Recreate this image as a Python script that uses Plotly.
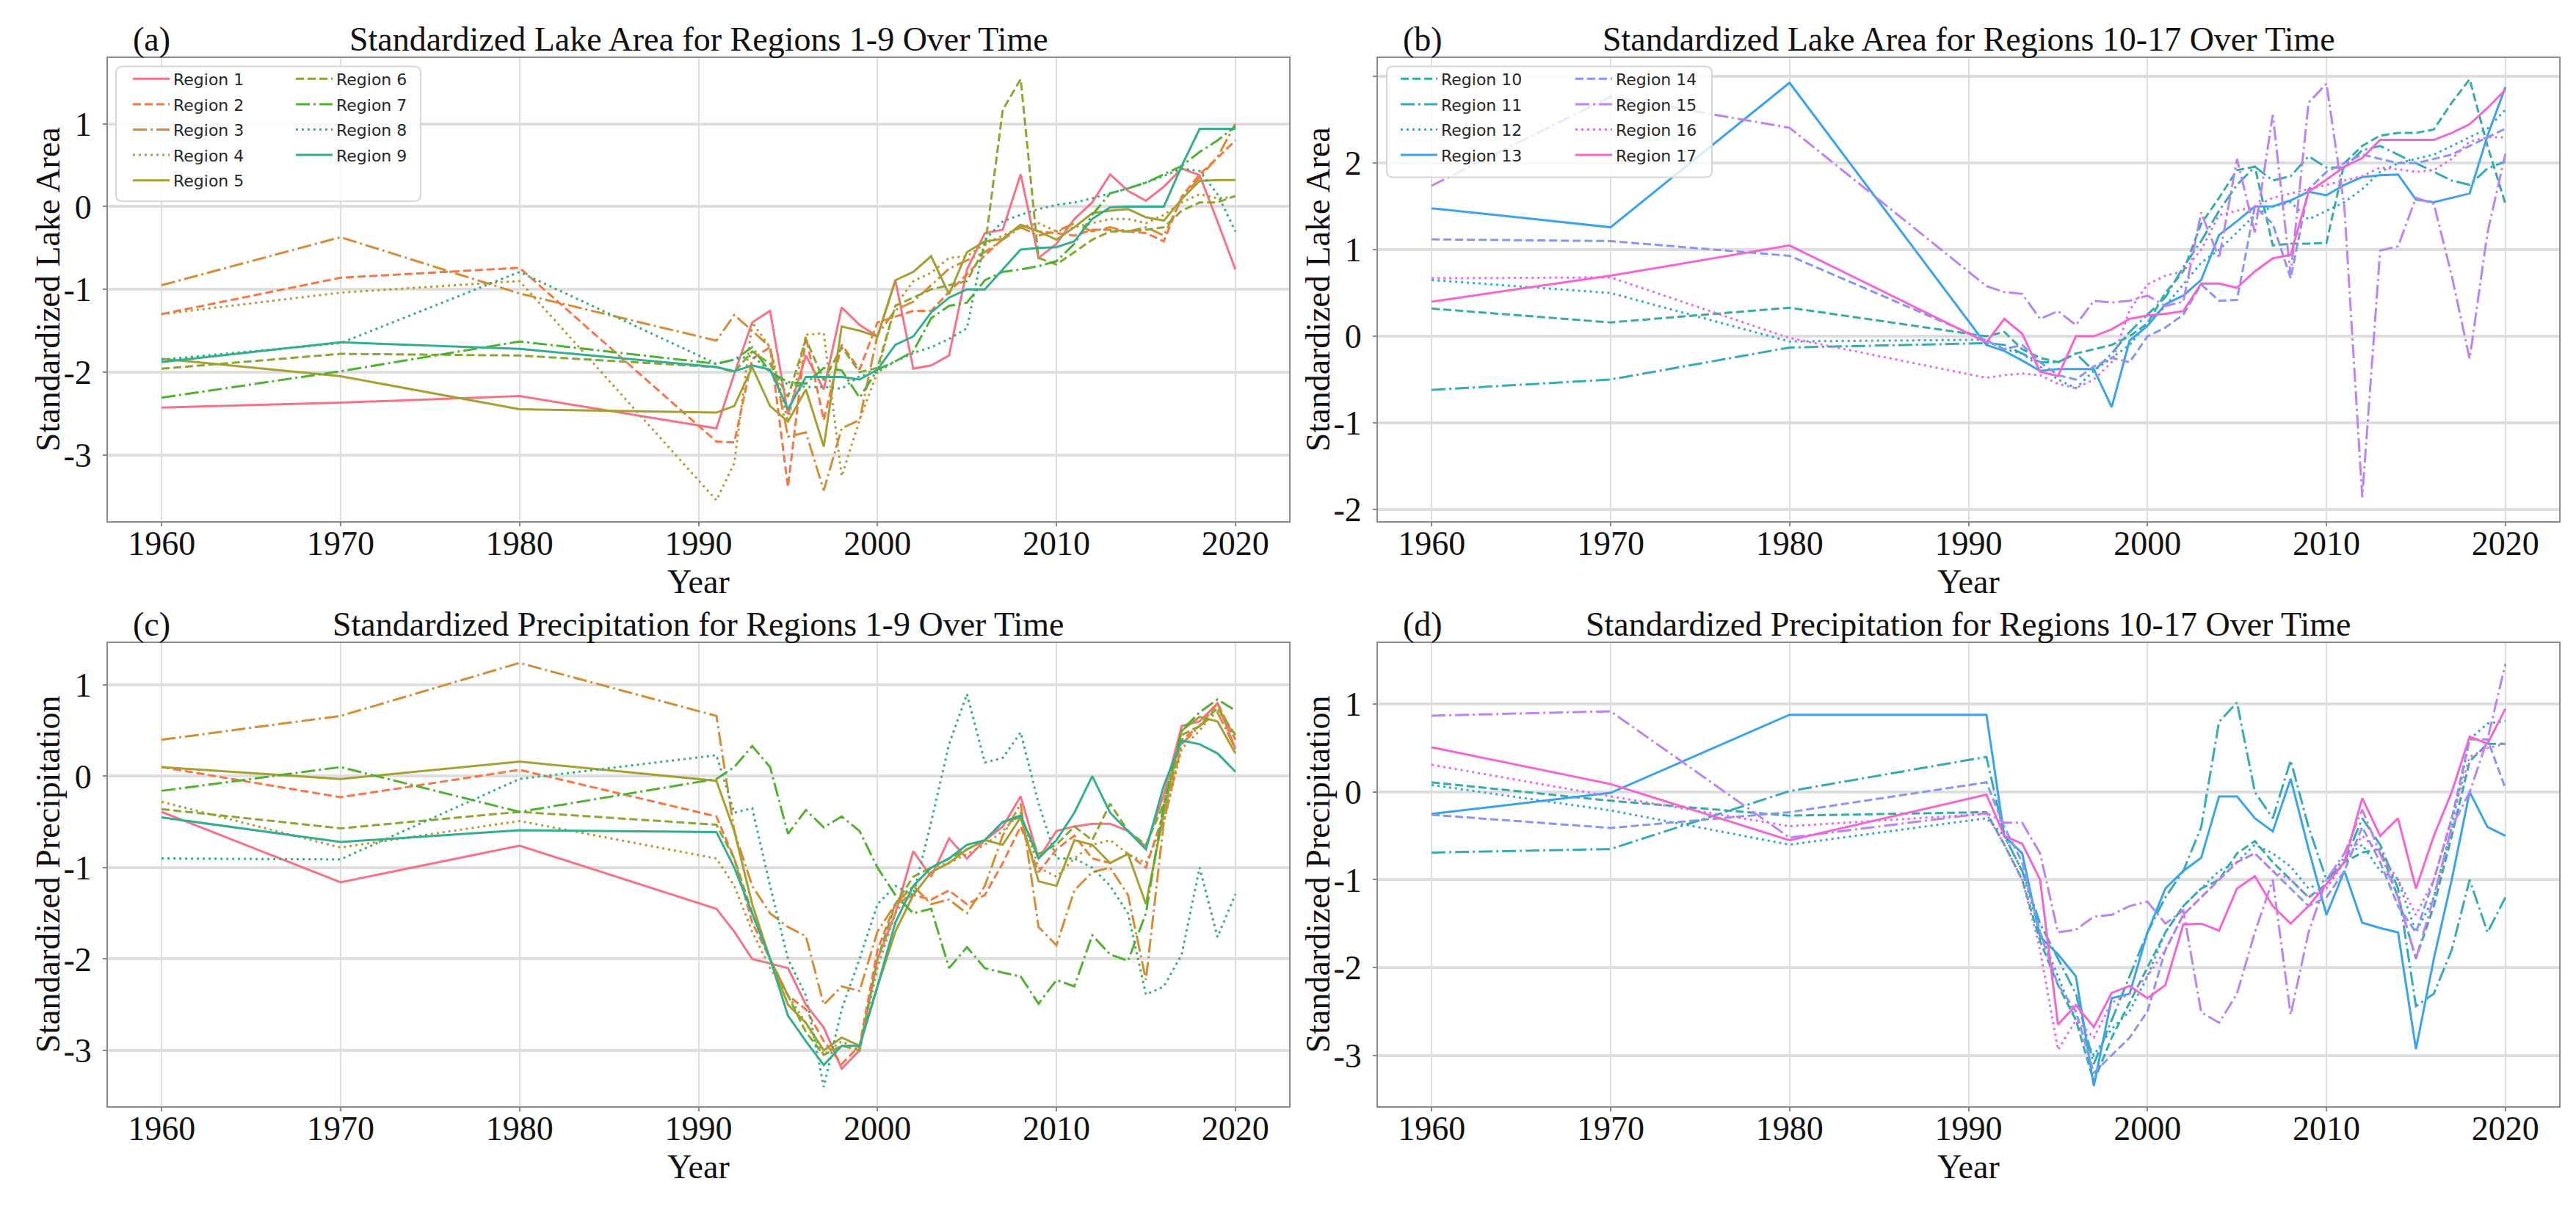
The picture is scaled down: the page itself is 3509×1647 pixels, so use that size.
import math
import plotly.graph_objects as go

# ---------------- data ----------------
years = [1960, 1970, 1980] + list(range(1991, 2021))

# Standardized lake area, regions 1-9
lake_r1 = [-2.43, -2.37, -2.29, -2.68, -2.02, -1.40, -1.26, -2.51, -1.80, -2.21, -1.22, -1.43, -1.57, -0.89, -1.96, -1.92, -1.80, -0.76, -0.32, -0.28, 0.39, -0.62, -0.45, -0.15, 0.05, 0.39, 0.19, 0.07, 0.24, 0.46, 0.38, -0.18, -0.76]
lake_r2 = [-1.30, -0.86, -0.74, -2.84, -2.85, -1.84, -1.70, -3.39, -1.57, -2.58, -1.67, -1.97, -1.40, -1.33, -1.26, -1.26, -1.03, -0.82, -0.59, -0.39, -0.22, -0.30, -0.32, -0.35, -0.28, -0.28, -0.30, -0.32, -0.42, 0.12, 0.39, 0.59, 0.80]
lake_r3 = [-0.95, -0.37, -1.05, -1.62, -1.31, -1.50, -1.70, -2.78, -2.73, -3.43, -2.68, -2.58, -1.55, -1.25, -1.15, -0.95, -0.75, -0.65, -0.55, -0.40, -0.25, -0.35, -0.30, -0.20, -0.30, -0.25, -0.30, -0.25, -0.35, 0.10, 0.35, 0.60, 1.00]
lake_r4 = [-1.30, -1.04, -0.90, -3.55, -3.10, -1.40, -1.70, -2.60, -1.55, -1.53, -3.26, -2.58, -2.00, -1.20, -0.90, -0.80, -0.62, -0.60, -0.45, -0.35, -0.25, -0.20, -0.30, -0.25, -0.20, -0.15, -0.15, -0.20, -0.10, 0.05, 0.15, 0.10, 0.12]
lake_r5 = [-1.84, -2.05, -2.45, -2.49, -2.41, -1.94, -2.41, -2.60, -2.21, -2.90, -1.45, -1.50, -1.57, -0.89, -0.79, -0.60, -1.06, -0.55, -0.42, -0.39, -0.22, -0.30, -0.40, -0.25, -0.08, -0.05, -0.03, -0.13, -0.17, 0.09, 0.31, 0.32, 0.32]
lake_r6 = [-1.96, -1.78, -1.80, -1.94, -2.00, -1.75, -1.90, -2.30, -1.60, -2.10, -1.70, -2.00, -1.95, -1.20, -1.10, -1.00, -0.95, -0.90, -0.50, 1.17, 1.54, -0.62, -0.70, -0.55, -0.40, -0.30, -0.30, -0.28, -0.25, -0.05, 0.05, 0.05, 0.13]
lake_r7 = [-2.31, -1.99, -1.63, -1.90, -1.85, -1.70, -2.00, -2.12, -2.14, -1.95, -1.98, -2.31, -1.97, -1.87, -1.75, -1.35, -1.20, -1.16, -0.89, -0.79, -0.76, -0.72, -0.66, -0.45, -0.10, 0.16, 0.22, 0.29, 0.39, 0.49, 0.66, 0.80, 0.97]
lake_r8 = [-1.85, -1.65, -0.79, -1.90, -1.85, -1.80, -2.00, -2.15, -2.18, -2.18, -2.20, -2.05, -2.00, -1.87, -1.77, -1.70, -1.60, -1.47, -0.40, -0.18, -0.10, -0.03, 0.02, 0.05, 0.10, 0.16, 0.22, 0.29, 0.37, 0.46, 0.43, 0.15, -0.30]
lake_r9 = [-1.88, -1.64, -1.72, -1.94, -1.99, -1.92, -1.97, -2.45, -2.06, -2.06, -2.06, -2.09, -1.97, -1.67, -1.57, -1.28, -1.10, -1.00, -1.00, -0.76, -0.52, -0.50, -0.49, -0.42, -0.15, -0.01, 0.00, 0.00, 0.00, 0.49, 0.94, 0.94, 0.94]

# Standardized lake area, regions 10-17
lake_r10 = [0.32, 0.16, 0.33, 0.00, 0.05, -0.15, -0.25, -0.30, -0.20, -0.15, -0.10, 0.00, 0.15, 0.50, 0.75, 1.30, 1.60, 1.92, 1.96, 1.05, 1.07, 1.07, 1.08, 2.00, 2.20, 2.32, 2.35, 2.35, 2.39, 2.70, 2.97, 2.20, 1.53]
lake_r11 = [-0.62, -0.50, -0.13, -0.08, -0.10, -0.20, -0.30, -0.30, -0.20, -0.40, -0.20, 0.05, 0.25, 0.45, 0.80, 1.10, 1.45, 1.75, 1.96, 1.80, 1.85, 2.08, 1.95, 1.95, 2.15, 2.20, 2.10, 2.00, 1.90, 1.80, 1.75, 1.94, 2.02]
lake_r12 = [0.65, 0.50, -0.06, -0.04, -0.15, -0.20, -0.35, -0.50, -0.60, -0.40, -0.25, -0.10, 0.15, 0.35, 0.60, 0.85, 1.00, 1.20, 1.40, 1.50, 1.55, 1.35, 1.45, 1.55, 1.70, 1.90, 2.00, 2.05, 2.10, 2.20, 2.30, 2.40, 2.62]
lake_r13 = [1.48, 1.26, 2.93, -0.10, -0.17, -0.28, -0.40, -0.38, -0.38, -0.38, -0.82, -0.05, 0.12, 0.37, 0.47, 0.65, 1.17, 1.33, 1.50, 1.50, 1.57, 1.67, 1.63, 1.75, 1.84, 1.86, 1.87, 1.58, 1.55, 1.60, 1.65, 2.32, 2.88]
lake_r14 = [1.12, 1.10, 0.93, -0.05, -0.15, -0.10, -0.30, -0.45, -0.50, -0.35, -0.25, -0.30, 0.00, 0.10, 0.25, 0.60, 0.41, 0.42, 1.50, 1.30, 0.67, 1.70, 1.90, 2.00, 2.10, 2.05, 2.00, 2.00, 2.05, 2.10, 2.20, 2.30, 2.40]
lake_r15 = [1.74, 2.77, 2.41, 0.58, 0.51, 0.49, 0.20, 0.29, 0.13, 0.41, 0.39, 0.41, 0.47, 0.35, 0.40, 1.43, 0.90, 2.05, 1.20, 2.56, 0.71, 2.70, 2.92, 1.50, -1.86, 0.99, 1.04, 1.60, 1.53, 0.70, -0.26, 1.20, 2.11]
lake_r16 = [0.67, 0.68, -0.02, -0.48, -0.45, -0.43, -0.45, -0.55, -0.60, -0.50, -0.30, 0.30, 0.60, 0.70, 0.75, 1.00, 1.40, 1.45, 1.50, 1.60, 1.65, 1.70, 1.75, 1.80, 1.85, 1.95, 1.93, 1.90, 1.92, 2.05, 2.25, 2.30, 2.30]
lake_r17 = [0.40, 0.70, 1.05, -0.07, 0.20, 0.03, -0.41, -0.46, 0.00, 0.00, 0.08, 0.20, 0.24, 0.26, 0.29, 0.61, 0.61, 0.56, 0.75, 0.90, 0.94, 1.67, 1.81, 1.96, 2.06, 2.27, 2.27, 2.27, 2.27, 2.35, 2.45, 2.64, 2.85]

# Standardized precipitation, regions 1-9
prec_r1 = [-0.39, -1.16, -0.76, -1.45, -1.70, -2.00, -2.05, -2.10, -2.50, -2.75, -3.20, -3.00, -2.00, -1.50, -0.82, -1.10, -0.68, -0.90, -0.70, -0.55, -0.22, -0.90, -0.60, -0.55, -0.52, -0.52, -0.60, -0.77, -0.20, 0.55, 0.60, 0.80, 0.30]
prec_r2 = [0.10, -0.23, 0.07, -0.44, -0.90, -1.60, -2.00, -2.40, -2.55, -2.90, -3.15, -2.95, -1.90, -1.40, -1.30, -1.35, -1.25, -1.40, -1.30, -0.95, -0.55, -1.05, -0.80, -0.65, -0.90, -0.95, -0.85, -1.00, -0.40, 0.40, 0.55, 0.80, 0.40]
prec_r3 = [0.40, 0.66, 1.24, 0.66, -0.60, -1.20, -1.50, -1.65, -1.75, -2.50, -2.30, -2.35, -1.70, -1.40, -1.20, -1.40, -1.35, -1.50, -1.20, -0.65, -0.30, -1.65, -1.85, -1.25, -1.05, -1.00, -1.30, -2.23, -0.50, 0.35, 0.55, 0.70, 0.30]
prec_r4 = [-0.28, -0.78, -0.49, -0.90, -1.20, -1.70, -2.10, -2.40, -2.70, -3.05, -2.90, -3.00, -2.10, -1.50, -1.20, -1.00, -0.95, -0.85, -0.75, -0.60, -0.40, -1.00, -1.10, -0.90, -0.75, -0.70, -0.85, -0.95, -0.50, 0.30, 0.50, 0.75, 0.40]
prec_r5 = [0.10, -0.03, 0.16, -0.05, -0.60, -1.40, -2.00, -2.50, -2.70, -3.00, -2.86, -2.95, -2.30, -1.70, -1.30, -1.05, -0.95, -0.80, -0.70, -0.75, -0.45, -1.15, -1.20, -0.70, -0.75, -0.95, -0.85, -1.40, -0.40, 0.50, 0.65, 0.60, 0.25]
prec_r6 = [-0.36, -0.57, -0.39, -0.53, -0.90, -1.50, -2.00, -2.40, -2.80, -3.05, -2.95, -3.00, -2.00, -1.40, -1.10, -1.00, -0.90, -0.80, -0.70, -0.50, -0.45, -0.85, -0.75, -0.55, -0.70, -0.30, -0.60, -0.75, -0.30, 0.45, 0.55, 0.75, 0.45]
prec_r7 = [-0.16, 0.10, -0.39, -0.03, 0.10, 0.33, 0.10, -0.63, -0.37, -0.56, -0.44, -0.60, -1.00, -1.30, -1.50, -1.45, -2.10, -1.87, -2.10, -2.15, -2.19, -2.49, -2.23, -2.30, -1.74, -1.95, -2.02, -1.50, -0.30, 0.50, 0.70, 0.84, 0.72]
prec_r8 = [-0.90, -0.91, -0.03, 0.23, -0.40, -0.35, -1.20, -2.00, -2.40, -3.40, -2.55, -2.00, -1.40, -1.20, -1.30, -0.50, 0.35, 0.90, 0.15, 0.20, 0.48, -0.30, -0.90, -0.90, -1.00, -1.20, -1.50, -2.39, -2.30, -1.95, -1.00, -1.76, -1.29]
prec_r9 = [-0.45, -0.72, -0.59, -0.61, -1.00, -1.50, -2.00, -2.62, -2.90, -3.16, -2.95, -2.95, -2.30, -1.60, -1.20, -1.00, -0.90, -0.75, -0.70, -0.50, -0.43, -0.90, -0.70, -0.40, 0.00, -0.40, -0.60, -0.80, -0.10, 0.39, 0.35, 0.25, 0.05]

# Standardized precipitation, regions 10-17
prec_r10 = [0.11, -0.10, -0.27, -0.23, -0.60, -1.00, -1.70, -2.20, -2.60, -3.30, -2.80, -2.40, -2.00, -1.60, -1.30, -1.10, -1.00, -0.70, -0.56, -0.80, -1.00, -1.20, -1.05, -0.80, -0.69, -0.65, -1.20, -1.90, -1.30, -0.50, 0.35, 0.55, 0.55]
prec_r11 = [-0.69, -0.65, 0.01, 0.40, -0.50, -0.90, -1.50, -1.90, -2.30, -3.10, -2.60, -2.10, -1.60, -1.20, -0.90, -0.40, 0.80, 1.02, 0.00, -0.30, 0.36, -0.40, -1.00, -0.80, -0.30, -0.60, -1.10, -2.44, -2.30, -1.80, -1.00, -1.60, -1.20]
prec_r12 = [0.08, -0.21, -0.60, -0.30, -0.50, -0.90, -1.60, -2.10, -2.60, -3.00, -2.70, -2.50, -2.10, -1.60, -1.30, -1.10, -0.90, -0.80, -0.60, -0.70, -0.85, -1.10, -1.00, -0.75, -0.60, -0.90, -1.00, -1.60, -1.20, -0.40, 0.60, 0.78, 0.81]
prec_r13 = [-0.25, -0.01, 0.88, 0.88, -0.50, -0.70, -1.65, -1.85, -2.10, -3.35, -2.35, -2.30, -1.60, -1.10, -0.90, -0.75, -0.05, -0.05, -0.30, -0.45, 0.15, -0.65, -1.40, -0.90, -1.49, -1.55, -1.60, -2.93, -1.90, -1.00, 0.00, -0.40, -0.50]
prec_r14 = [-0.26, -0.41, -0.23, 0.11, -0.40, -0.80, -1.60, -2.20, -2.50, -3.20, -3.00, -2.80, -2.50, -1.80, -1.40, -1.20, -1.00, -0.80, -0.70, -0.90, -1.10, -1.30, -1.20, -0.90, -0.40, -0.80, -1.30, -1.60, -1.00, -0.30, 0.60, 0.60, 0.04]
prec_r15 = [0.87, 0.92, -0.52, -0.24, -0.35, -0.35, -0.70, -1.60, -1.57, -1.42, -1.40, -1.30, -1.25, -1.50, -1.35, -2.51, -2.63, -2.30, -1.60, -1.00, -2.54, -1.60, -1.00, -0.70, -0.20, -0.70, -1.20, -1.90, -1.20, -0.40, 0.00, 0.60, 1.46]
prec_r16 = [0.31, -0.05, -0.39, -0.25, -0.60, -1.00, -1.80, -2.94, -2.60, -2.80, -2.40, -2.30, -2.10, -1.80, -1.40, -1.20, -1.00, -0.80, -0.70, -0.90, -1.00, -1.20, -1.10, -0.80, -0.50, -0.70, -1.00, -1.40, -1.00, -0.30, 0.40, 0.50, 0.55]
prec_r17 = [0.51, 0.09, -0.55, -0.03, -0.50, -0.59, -1.00, -2.65, -2.43, -2.68, -2.29, -2.21, -2.35, -2.20, -1.51, -1.50, -1.58, -1.10, -0.96, -1.30, -1.50, -1.30, -1.05, -0.80, -0.07, -0.50, -0.30, -1.10, -0.50, 0.00, 0.63, 0.55, 0.95]

region_names = [f"Region {i}" for i in range(1, 18)]
x_ticks = [1960, 1970, 1980, 1990, 2000, 2010, 2020]
y_ticks_a = [-3, -2, -1, 0, 1]
y_ticks_b = [-2, -1, 0, 1, 2, 3]
y_ticks_c = [-3, -2, -1, 0, 1]
y_ticks_d = [-3, -2, -1, 0, 1]

lake_left = [lake_r1, lake_r2, lake_r3, lake_r4, lake_r5, lake_r6, lake_r7, lake_r8, lake_r9]
lake_right = [lake_r10, lake_r11, lake_r12, lake_r13, lake_r14, lake_r15, lake_r16, lake_r17]
prec_left = [prec_r1, prec_r2, prec_r3, prec_r4, prec_r5, prec_r6, prec_r7, prec_r8, prec_r9]
prec_right = [prec_r10, prec_r11, prec_r12, prec_r13, prec_r14, prec_r15, prec_r16, prec_r17]

# ---------------- colours: seaborn-style husl palette ----------------
_M = [[3.2406, -1.5372, -0.4986], [-0.9689, 1.8758, 0.0415], [0.0557, -0.2040, 1.0570]]
_refU, _refV = 0.19784, 0.46834


def _max_chroma(L, H):
    hrad = math.radians(H)
    sinH, cosH = math.sin(hrad), math.cos(hrad)
    sub1 = (L + 16) ** 3 / 1560896.0
    sub2 = sub1 if sub1 > 0.008856 else L / 903.3
    res = float("inf")
    for m1, m2, m3 in _M:
        top = (0.99915 * m1 + 1.05122 * m2 + 1.14460 * m3) * sub2
        rb = 0.86330 * m3 - 0.17266 * m2
        lb = 0.12949 * m3 - 0.38848 * m1
        bottom = (rb * sinH + lb * cosH) * sub2
        for t in (0.0, 1.0):
            C = L * (top - 1.05122 * t) / (bottom + 0.17266 * sinH * t)
            if 0 < C < res:
                res = C
    return res


def _husl_to_hex(H, S, L):
    C = _max_chroma(L, H) / 100.0 * S
    hr = math.radians(H)
    U, V = math.cos(hr) * C, math.sin(hr) * C
    t = (L + 16.0) / 116.0
    Y = t ** 3 if t ** 3 > 0.008856 else (116.0 * t - 16.0) / 903.3
    vu = U / (13.0 * L) + _refU
    vv = V / (13.0 * L) + _refV
    X = 0.0 - (9.0 * Y * vu) / ((vu - 4.0) * vv - vu * vv)
    Z = (9.0 * Y - 15.0 * vv * Y - vv * X) / (3.0 * vv)
    out = []
    for row in _M:
        c = row[0] * X + row[1] * Y + row[2] * Z
        c = 12.92 * c if c <= 0.0031308 else 1.055 * c ** (1 / 2.4) - 0.055
        out.append(min(max(c, 0.0), 1.0))
    return "#%02x%02x%02x" % tuple(int(round(v * 255)) for v in out)


N_HUES = 18
palette = []
for i in range(17):
    h = ((i / float(N_HUES)) + 0.01) % 1.0
    palette.append(_husl_to_hex(h * 359, 0.9 * 99, 0.65 * 99))

dash_cycle = ["solid", "11px,5px", "19px,5px,3px,5px", "3px,5px"]

# ---------------- layout geometry ----------------
W, H = 3509, 1647
FX = lambda px: px / W
FY = lambda py: 1 - py / H
col_x = [(139, 1748), (1869, 3478)]
row_y = [(71, 706), (873, 1508)]

SERIF = "Liberation Serif"
SANS = "DejaVu Sans"
TXT = "#262626"

fig = go.Figure()

panels = [
    ("x", "y", lake_left, 0, ["legend"] * 5 + ["legend2"] * 4),
    ("x2", "y2", lake_right, 9, ["legend3"] * 4 + ["legend4"] * 4),
    ("x3", "y3", prec_left, 0, None),
    ("x4", "y4", prec_right, 9, None),
]
for xa, ya, series, offset, legs in panels:
    for k, vals in enumerate(series):
        idx = offset + k
        fig.add_trace(go.Scatter(
            x=years, y=vals, mode="lines", name=region_names[idx],
            line=dict(color=palette[idx], width=3, dash=dash_cycle[idx % 4]),
            xaxis=xa, yaxis=ya,
            showlegend=legs is not None,
            legend=legs[k] if legs else None,
            legendgroup=f"{xa}_{idx}",
            hoverinfo="skip",
        ))

axis_common = dict(
    showgrid=True, gridcolor="#dedede", zeroline=False,
    showline=True, linecolor="#8a8a8a", linewidth=2, mirror=True,
    ticks="outside", ticklen=5, tickwidth=2, tickcolor="#8a8a8a",
    tickfont=dict(family=SERIF, size=46, color="#111111"),
)


def xax(col, row, anchor):
    d = dict(axis_common)
    d.update(domain=[FX(col_x[col][0]), FX(col_x[col][1])], range=[1957, 2023],
             tickvals=x_ticks, ticktext=[str(v) for v in x_ticks], anchor=anchor,
             gridwidth=2, ticklabelstandoff=-16)
    return d


def yax(col, row, anchor, rng, ticks, blank=()):
    d = dict(axis_common)
    d.update(domain=[FY(row_y[row][1]), FY(row_y[row][0])], range=rng,
             tickvals=ticks, ticktext=["" if v in blank else str(v) for v in ticks],
             anchor=anchor, gridwidth=3.5, ticklabelstandoff=6)
    return d


fig.update_layout(
    width=W, height=H,
    margin=dict(l=0, r=0, t=0, b=0),
    paper_bgcolor="white", plot_bgcolor="white",
    xaxis=xax(0, 0, "y"), yaxis=yax(0, 0, "x", [-3.80, 1.80], y_ticks_a),
    xaxis2=xax(1, 0, "y2"), yaxis2=yax(1, 0, "x2", [-2.135, 3.22], y_ticks_b, blank=(3,)),
    xaxis3=xax(0, 1, "y3"), yaxis3=yax(0, 1, "x3", [-3.61, 1.46], y_ticks_c),
    xaxis4=xax(1, 1, "y4"), yaxis4=yax(1, 1, "x4", [-3.58, 1.70], y_ticks_d),
)

# legends (two columns each, column-first like matplotlib)
leg_font = dict(family=SANS, size=22, color=TXT)
leg_base = dict(xanchor="left", yanchor="top", bgcolor="rgba(0,0,0,0)", borderwidth=0,
                font=leg_font, itemwidth=50, tracegroupgap=3, orientation="v",
                itemclick=False, itemdoubleclick=False)
fig.update_layout(
    legend=dict(leg_base, x=FX(168), y=FY(79)),
    legend2=dict(leg_base, x=FX(390), y=FY(79)),
    legend3=dict(leg_base, x=FX(1895), y=FY(79)),
    legend4=dict(leg_base, x=FX(2133), y=FY(79)),
)


def rounded_box(x0, y0, x1, y1, r=9):
    rx, ry = r / W, r / H
    X0, X1, Y0, Y1 = FX(x0), FX(x1), FY(y1), FY(y0)
    return (f"M {X0+rx},{Y0} L {X1-rx},{Y0} Q {X1},{Y0} {X1},{Y0+ry} "
            f"L {X1},{Y1-ry} Q {X1},{Y1} {X1-rx},{Y1} L {X0+rx},{Y1} "
            f"Q {X0},{Y1} {X0},{Y1-ry} L {X0},{Y0+ry} Q {X0},{Y0} {X0+rx},{Y0} Z")


for bx in [(150, 83, 565, 268), (1881, 83, 2324, 235)]:
    fig.add_shape(type="path", path=rounded_box(*bx), xref="paper", yref="paper",
                  fillcolor="rgba(255,255,255,0.8)", line=dict(color="#d6d6d6", width=2),
                  layer="above")

# titles, panel letters, axis titles
titles = [
    ("Standardized Lake Area for Regions 1-9 Over Time", "(a)", 0, 0, "Standardized Lake Area"),
    ("Standardized Lake Area for Regions 10-17 Over Time", "(b)", 1, 0, "Standardized Lake Area"),
    ("Standardized Precipitation for Regions 1-9 Over Time", "(c)", 0, 1, "Standardized Precipitation"),
    ("Standardized Precipitation for Regions 10-17 Over Time", "(d)", 1, 1, "Standardized Precipitation"),
]
title_font = dict(family=SERIF, size=46, color="#111111")
for text, letter, c, r, ylab in titles:
    x0, x1 = col_x[c]
    y0, y1 = row_y[r]
    ty = y0 - 25
    fig.add_annotation(text=text, x=FX((x0 + x1) / 2), y=FY(ty), xref="paper", yref="paper",
                       showarrow=False, xanchor="center", yanchor="middle", font=title_font)
    fig.add_annotation(text=letter, x=FX(x0 + 0.02 * (x1 - x0)), y=FY(ty), xref="paper", yref="paper",
                       showarrow=False, xanchor="left", yanchor="middle", font=title_font)
    fig.add_annotation(text="Year", x=FX((x0 + x1) / 2), y=FY(y1 + 83), xref="paper", yref="paper",
                       showarrow=False, xanchor="center", yanchor="middle", font=title_font)
    fig.add_annotation(text=ylab, x=FX(x0 - 82), y=FY((y0 + y1) / 2), xref="paper", yref="paper",
                       showarrow=False, xanchor="center", yanchor="middle", textangle=-90,
                       font=title_font)

fig.write_html("out.html")
